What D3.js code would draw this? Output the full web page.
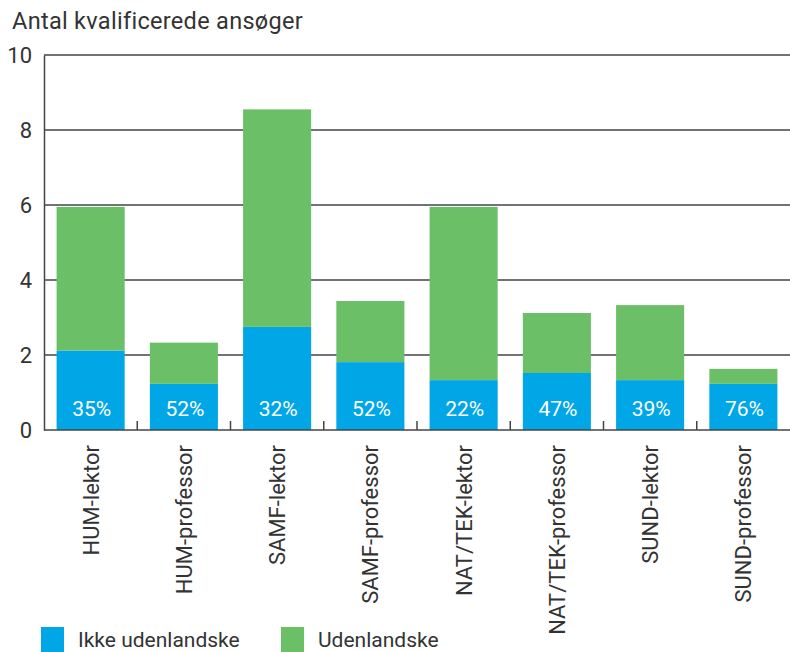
<!DOCTYPE html>
<html>
<head>
<meta charset="utf-8">
<script src="https://cdn.jsdelivr.net/npm/d3@7"></script>
<style>
  body { margin: 0; background: #fff; }
  text { font-family: Roboto, "DejaVu Sans", sans-serif; fill: #333; }
</style>
</head>
<body>
<div id="chart"></div>
<script>
// Data
const categories = ["HUM-lektor", "HUM-professor", "SAMF-lektor", "SAMF-professor",
    "NAT/TEK-lektor", "NAT/TEK-professor", "SUND-lektor", "SUND-professor"];
const domestic = [2.12, 1.23, 2.75, 1.81, 1.33, 1.52, 1.33, 1.23];   // Ikke udenlandske
const foreign = [3.83, 1.10, 5.80, 1.63, 4.62, 1.60, 2.00, 0.40];    // Udenlandske
const percentLabels = ["35%", "52%", "32%", "52%", "22%", "47%", "39%", "76%"];
const yTicks = [0, 2, 4, 6, 8, 10];
const seriesNames = ["Ikke udenlandske", "Udenlandske"];
const colors = ["#00a6e6", "#6bbf67"];

const width = 790, height = 652;
const margin = { top: 55, right: 0, bottom: 222, left: 44 };
const innerW = width - margin.left - margin.right;
const innerH = height - margin.top - margin.bottom;

const svg = d3.select("#chart").append("svg")
    .attr("width", width)
    .attr("height", height);

// Title
svg.append("text")
    .attr("x", 12)
    .attr("y", 29)
    .style("font-size", "23.5px")
    .style("letter-spacing", "0.3px")
    .text("Antal kvalificerede ansøger");

const g = svg.append("g")
    .attr("transform", `translate(${margin.left},${margin.top})`);

const x = d3.scaleBand()
    .domain(categories)
    .range([0, innerW])
    .paddingInner(0.27)
    .paddingOuter(0.135);

const y = d3.scaleLinear()
    .domain([0, 10])
    .range([innerH, 0]);

// Gridlines
g.selectAll(".grid")
    .data(yTicks.filter(d => d > 0))
    .enter().append("line")
    .attr("x1", 0)
    .attr("x2", innerW)
    .attr("y1", d => y(d))
    .attr("y2", d => y(d))
    .attr("stroke", "#444")
    .attr("stroke-width", 1.5);

// Stacked bars
const rows = categories.map((c, i) => ({ cat: c, dom: domestic[i], frn: foreign[i], pct: percentLabels[i] }));

g.selectAll(".bar-dom")
    .data(rows)
    .enter().append("rect")
    .attr("x", d => x(d.cat))
    .attr("width", x.bandwidth())
    .attr("y", d => y(d.dom))
    .attr("height", d => innerH - y(d.dom))
    .attr("fill", colors[0]);

g.selectAll(".bar-frn")
    .data(rows)
    .enter().append("rect")
    .attr("x", d => x(d.cat))
    .attr("width", x.bandwidth())
    .attr("y", d => y(d.dom + d.frn))
    .attr("height", d => y(d.dom) - y(d.dom + d.frn))
    .attr("fill", colors[1]);

// Percent labels
g.selectAll(".pct")
    .data(rows)
    .enter().append("text")
    .attr("x", d => x(d.cat) + x.bandwidth() / 2 + 1)
    .attr("y", innerH - 14)
    .attr("text-anchor", "middle")
    .style("font-size", "21px")
    .style("fill", "#fff")
    .text(d => d.pct);

// Y axis
const yAxis = g.append("g")
    .call(d3.axisLeft(y).tickValues(yTicks).tickSize(0).tickPadding(12));
yAxis.select(".domain").attr("stroke", "#444").attr("stroke-width", 1.5);
yAxis.selectAll("text")
    .style("font-size", "22px")
    .style("fill", "#333");

// X axis baseline with inward ticks between categories
const step = x.step();
g.append("line")
    .attr("x1", 0).attr("x2", innerW)
    .attr("y1", innerH).attr("y2", innerH)
    .attr("stroke", "#444").attr("stroke-width", 1.5);

g.selectAll(".xtick")
    .data(categories.slice(1))
    .enter().append("line")
    .attr("x1", d => x(d) - x.paddingInner() * step / 2)
    .attr("x2", d => x(d) - x.paddingInner() * step / 2)
    .attr("y1", innerH)
    .attr("y2", innerH - 9)
    .attr("stroke", "#444")
    .attr("stroke-width", 1.5);

// Category labels (rotated)
g.selectAll(".cat")
    .data(categories)
    .enter().append("text")
    .attr("transform", d => `translate(${x(d) + x.bandwidth() / 2 + 8},${innerH + 15}) rotate(-90)`)
    .attr("text-anchor", "end")
    .style("font-size", "22px")
    .text(d => d);

// Legend
const legend = svg.append("g");
const legendX = [41, 281];
seriesNames.forEach((name, i) => {
    legend.append("rect")
        .attr("x", legendX[i])
        .attr("y", 627)
        .attr("width", 23)
        .attr("height", 25)
        .attr("fill", colors[i]);
    legend.append("text")
        .attr("x", legendX[i] + 37)
        .attr("y", 647)
        .style("font-size", "21px")
        .text(name);
});
</script>
</body>
</html>
